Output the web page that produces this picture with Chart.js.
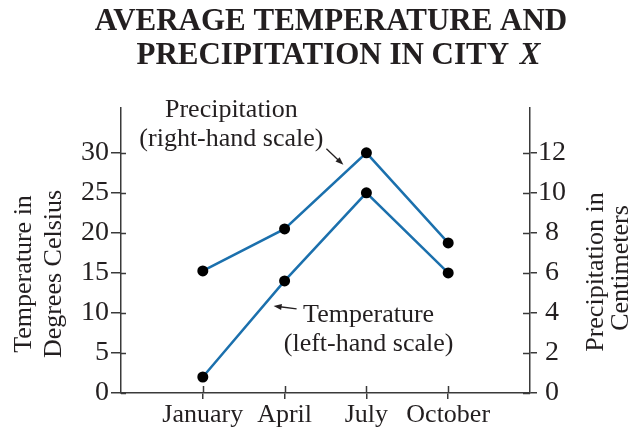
<!DOCTYPE html>
<html>
<head>
<meta charset="utf-8">
<script src="https://cdn.jsdelivr.net/npm/chart.js@4/dist/chart.umd.min.js"></script>
<style>
  html, body { margin: 0; padding: 0; background: #fff; }
  #wrap { width: 635px; height: 431px; }
</style>
</head>
<body>
<div id="wrap"><canvas id="c" width="635" height="431"></canvas></div>
<script>
// Months shown on the horizontal axis and their position in the year
const months = ['January', 'April', 'July', 'October'];
const monthNumbers = [1, 4, 7, 10];

// Average temperature, degrees Celsius (left-hand scale)
const temperature = [2, 14, 25, 15];
// Average precipitation, centimeters (right-hand scale)
const precipitation = [6.1, 8.2, 12, 7.5];

// Tick labels on each vertical axis
const tempTicks = [0, 5, 10, 15, 20, 25, 30];
const precipTicks = [0, 2, 4, 6, 8, 10, 12];

const SERIF = '"Liberation Serif", "Times New Roman", serif';
const INK = '#231f20';
const AXIS = '#3a3a3a';
const LINE = '#1b70ad';

const W = 635, H = 431;
const PLOT = { left: 121, right: 530, top: 108, bottom: 393 };

function points(values) {
  return values.map((v, i) => ({ x: monthNumbers[i], y: v }));
}

function arrow(ctx, x1, y1, x2, y2) {
  // shaft from (x1,y1) to the head at (x2,y2)
  const ang = Math.atan2(y2 - y1, x2 - x1);
  const len = 8, wid = 3;
  ctx.save();
  ctx.strokeStyle = INK;
  ctx.fillStyle = INK;
  ctx.lineWidth = 1.3;
  ctx.beginPath();
  ctx.moveTo(x1, y1);
  ctx.lineTo(x2 - Math.cos(ang) * len * 0.8, y2 - Math.sin(ang) * len * 0.8);
  ctx.stroke();
  ctx.beginPath();
  ctx.moveTo(x2, y2);
  ctx.lineTo(x2 - Math.cos(ang) * len - Math.sin(ang) * wid, y2 - Math.sin(ang) * len + Math.cos(ang) * wid);
  ctx.lineTo(x2 - Math.cos(ang) * len + Math.sin(ang) * wid, y2 - Math.sin(ang) * len - Math.cos(ang) * wid);
  ctx.closePath();
  ctx.fill();
  ctx.restore();
}

// Title, axis titles, series call-outs and the inner halves of the tick marks
const decorations = {
  id: 'decorations',
  beforeDatasetsDraw(chart) {
    const ctx = chart.ctx;
    const { x, y, y2 } = chart.scales;
    ctx.save();
    ctx.strokeStyle = AXIS;
    ctx.lineWidth = 1.5;
    ctx.beginPath();
    tempTicks.forEach(v => {
      const py = Math.round(y.getPixelForValue(v)) + 0.5;
      ctx.moveTo(y.right, py); ctx.lineTo(y.right + 5, py);
    });
    precipTicks.forEach(v => {
      const py = Math.round(y2.getPixelForValue(v)) + 0.5;
      ctx.moveTo(y2.left - 7, py); ctx.lineTo(y2.left, py);
    });
    monthNumbers.forEach(v => {
      const px = Math.round(x.getPixelForValue(v)) + 0.5;
      ctx.moveTo(px, x.top); ctx.lineTo(px, x.top - 7);
    });
    ctx.stroke();
    ctx.restore();
  },
  afterDraw(chart) {
    const ctx = chart.ctx;
    const { x, y, y2 } = chart.scales;
    ctx.save();
    ctx.fillStyle = INK;

    // Chart title, two lines, last letter in italics
    ctx.textBaseline = 'alphabetic';
    ctx.font = 'bold 31px ' + SERIF;
    ctx.textAlign = 'center';
    ctx.fillText('AVERAGE TEMPERATURE AND', 331, 30);
    const part = 'PRECIPITATION IN CITY ';
    const wPart = ctx.measureText(part).width;
    ctx.font = 'italic bold 31px ' + SERIF;
    const wX = ctx.measureText('X').width;
    const start = 337 - (wPart + wX) / 2;
    ctx.textAlign = 'left';
    ctx.font = 'bold 31px ' + SERIF;
    ctx.fillText(part, start, 64);
    ctx.font = 'italic bold 31px ' + SERIF;
    ctx.fillText('X', start + wPart + 3, 64);

    // Axis titles, rotated to read upwards
    ctx.font = '26px ' + SERIF;
    ctx.textAlign = 'center';
    const vtext = (str, bx, cy) => {
      ctx.save();
      ctx.translate(bx, cy);
      ctx.rotate(-Math.PI / 2);
      ctx.fillText(str, 0, 0);
      ctx.restore();
    };
    vtext('Temperature in', 31, 274);
    vtext('Degrees Celsius', 61, 274);
    vtext('Precipitation in', 603, 272);
    vtext('Centimeters', 628, 268);

    // Call-out for the precipitation line, anchored at its July point
    const pJx = x.getPixelForValue(monthNumbers[2]);
    const pJy = y2.getPixelForValue(precipitation[2]);
    ctx.font = '26px ' + SERIF;
    ctx.textAlign = 'center';
    ctx.fillText('Precipitation', pJx - 135, pJy - 36);
    ctx.fillText('(right-hand scale)', pJx - 135, pJy - 7);
    arrow(ctx, pJx - 40, pJy - 4, pJx - 23, pJy + 12);

    // Call-out for the temperature line, anchored at its April point
    const tAx = x.getPixelForValue(monthNumbers[1]);
    const tAy = y.getPixelForValue(temperature[1]);
    ctx.fillText('Temperature', tAx + 84, tAy + 41);
    ctx.fillText('(left-hand scale)', tAx + 84, tAy + 70);
    arrow(ctx, tAx + 12, tAy + 28, tAx - 11, tAy + 25);

    ctx.restore();
  }
};

const tickFont = { family: SERIF, size: 28 };

new Chart(document.getElementById('c'), {
  type: 'line',
  data: {
    datasets: [
      {
        label: 'Precipitation',
        data: points(precipitation),
        yAxisID: 'y2',
        borderColor: LINE,
        borderWidth: 2.5,
        pointRadius: 5.5,
        pointBackgroundColor: '#000',
        pointBorderWidth: 0,
        tension: 0
      },
      {
        label: 'Temperature',
        data: points(temperature),
        yAxisID: 'y',
        borderColor: LINE,
        borderWidth: 2.5,
        pointRadius: 5.5,
        pointBackgroundColor: '#000',
        pointBorderWidth: 0,
        tension: 0
      }
    ]
  },
  options: {
    responsive: false,
    devicePixelRatio: 1,
    animation: false,
    events: [],
    layout: { padding: { top: PLOT.top, left: 0, right: 0, bottom: 0 } },
    plugins: { legend: { display: false }, title: { display: false }, tooltip: { enabled: false } },
    scales: {
      x: {
        type: 'linear',
        position: 'bottom',
        min: -2,
        max: 13,
        afterBuildTicks: s => { s.ticks = monthNumbers.map(v => ({ value: v })); },
        afterFit: s => { s.height = H - PLOT.bottom; },
        ticks: {
          callback: v => months[monthNumbers.indexOf(v)],
          font: { family: SERIF, size: 26 },
          color: INK,
          padding: 1,
          maxRotation: 0,
          autoSkip: false
        },
        grid: { drawOnChartArea: false, drawTicks: true, tickLength: 6, color: AXIS, lineWidth: 1.5 },
        border: { color: AXIS, width: 1.5 }
      },
      y: {
        type: 'linear',
        position: 'left',
        min: 0,
        max: 35.6,
        afterBuildTicks: s => { s.ticks = tempTicks.map(v => ({ value: v })); },
        afterFit: s => { s.width = PLOT.left; },
        ticks: { font: tickFont, color: INK, padding: 2 },
        grid: { drawOnChartArea: false, drawTicks: true, tickLength: 10, color: AXIS, lineWidth: 1.5 },
        border: { color: AXIS, width: 1.5 }
      },
      y2: {
        type: 'linear',
        position: 'right',
        min: 0,
        max: 14.24,
        afterBuildTicks: s => { s.ticks = precipTicks.map(v => ({ value: v })); },
        afterFit: s => { s.width = W - PLOT.right; },
        ticks: { font: tickFont, color: INK, padding: 1, crossAlign: 'center' },
        grid: { drawOnChartArea: false, drawTicks: true, tickLength: 7, color: AXIS, lineWidth: 1.5 },
        border: { color: AXIS, width: 1.5 }
      }
    }
  },
  plugins: [decorations]
});
</script>
</body>
</html>
